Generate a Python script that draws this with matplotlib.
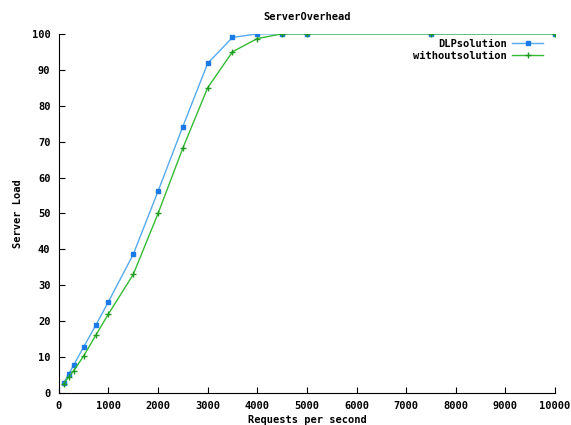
import matplotlib
matplotlib.use("Agg")
import matplotlib.pyplot as plt

# requests per second
req = [100, 200, 300, 500, 750, 1000, 1500, 2000, 2500, 3000, 3500, 4000, 4500, 5000, 7500, 10000]
dlp = [2.9, 5.3, 7.8, 12.8, 19.0, 25.4, 38.6, 56.2, 74.2, 91.8, 99.0, 100, 100, 100, 100, 100]
without = [2.6, 4.5, 6.2, 10.3, 16.2, 22.0, 33.0, 50.0, 68.2, 85.0, 95.0, 98.7, 100, 100, 100, 100]

xticks = list(range(0, 10001, 1000))
yticks = list(range(0, 101, 10))

plt.rcParams['font.family'] = 'DejaVu Sans Mono'
plt.rcParams['font.weight'] = 'bold'
fs = 7.5

fig = plt.figure(figsize=(5.71, 4.25), dpi=100)
ax = fig.add_axes([0.103, 0.0753, 0.869, 0.845])

ax.plot(req, dlp, color='#55aaee', lw=1, marker='s', ms=3.2, mfc='#1a7ae8', mec='#1a7ae8', label='DLPsolution')
ax.plot(req, without, color='#33bb33', lw=1, marker='+', ms=4, mew=1, mec='#229922', label='withoutsolution')

ax.set_xlim(0, 10000)
ax.set_ylim(0, 100)
ax.set_xticks(xticks)
ax.set_yticks(yticks)
ax.tick_params(direction='in', length=4, labelsize=fs, width=0.8, pad=6)
for s in ['top', 'right']:
    ax.spines[s].set_visible(False)
for s in ['left', 'bottom']:
    ax.spines[s].set_linewidth(0.8)

ax.set_title('ServerOverhead', fontsize=fs, fontweight='bold', pad=10)
ax.set_xlabel('Requests per second', fontsize=fs, fontweight='bold', labelpad=2.5)
ax.set_ylabel('Server Load', fontsize=fs, fontweight='bold', labelpad=6)

leg = ax.legend(loc='upper right', bbox_to_anchor=(0.985, 0.998), frameon=False, fontsize=fs,
                markerfirst=False, handlelength=3, handletextpad=0.5, labelspacing=0.2, borderaxespad=0)
for t in leg.get_texts():
    t.set_ha('right')
    t.set_fontweight('bold')

fig.savefig('out.png', dpi=100)
